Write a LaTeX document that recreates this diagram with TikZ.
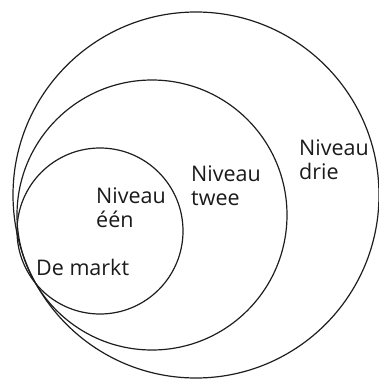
\documentclass[tikz,border=0pt]{standalone}
\usepackage{fontspec}
\setmainfont{Open Sans}
\usetikzlibrary{positioning}
\definecolor{ringline}{HTML}{1E1E1E}
\definecolor{leveltext}{HTML}{1A1A1A}

\begin{document}
\begin{tikzpicture}[x=1pt,y=-1pt]
\tikzstyle{ring}=[draw=ringline,circle,line width=1.2pt,inner sep=0pt]
\tikzstyle{levelname}=[text=leveltext,font=\fontsize{21.5}{24}\selectfont,align=left,inner sep=0pt,anchor=base west]
\useasboundingbox (0,0) rectangle (379,383);
% the three levels
\node[ring,minimum size=366pt] (drie) at (196,195) {};
\node[ring,minimum size=270pt] (twee) at (152,215) {};
\node[ring,minimum size=166pt] (een) at (100,231) {};
% names (base = last line)
\node[levelname] (neen) at (96,227) {Niveau\\één};
\node[levelname] (ntwee) at (191,205) {Niveau\\twee};
\node[levelname] (ndrie) at (299,179) {Niveau\\drie};
\node[levelname] (markt) at (36,275) {De markt};
\end{tikzpicture}
\end{document}
